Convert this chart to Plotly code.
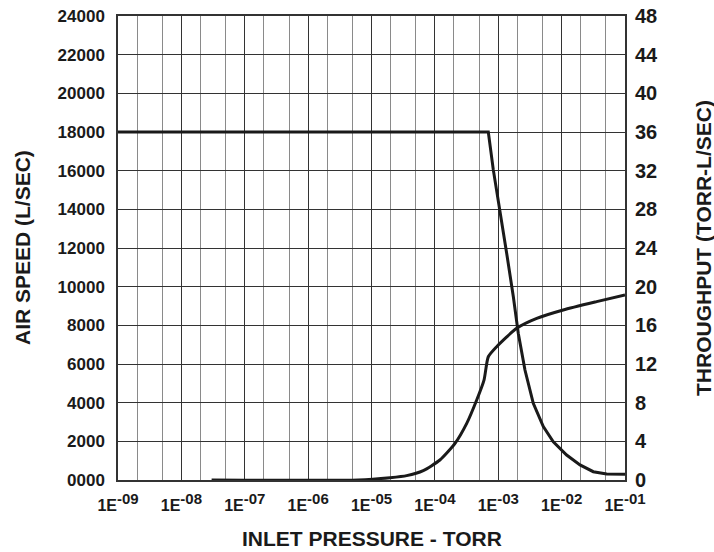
import plotly.graph_objects as go

# ---- data ----
speed_pressure = [1e-9, 6.97e-4, 8.36e-4, 1.067e-3, 1.358e-3, 1.73e-3, 2.07e-3, 2.64e-3,
                  3.57e-3, 5.14e-3, 7.39e-3, 1.2e-2, 1.95e-2, 3.16e-2, 5.14e-2, 1e-1]
air_speed = [18000, 18000, 16040, 13970, 11730, 9480, 7590, 5690,
             3970, 2760, 1980, 1290, 780, 430, 310, 300]

thru_pressure = [3e-8, 6.19e-6, 1.96e-5, 3.59e-5, 6.56e-5, 1.2e-4, 2.08e-4, 3.18e-4,
                 4.57e-4, 5.96e-4, 6.97e-4, 9.44e-4, 1.95e-3, 4.05e-3, 1.06e-2,
                 3.57e-2, 1e-1]
throughput = [0, 0, 0.24, 0.45, 0.97, 2.07, 3.79, 5.86,
              8.28, 10.34, 12.75, 13.79, 15.69, 16.72, 17.59,
              18.45, 19.14]

x_tickvals = [1e-9, 1e-8, 1e-7, 1e-6, 1e-5, 1e-4, 1e-3, 1e-2, 1e-1]
x_exponents = ["-09", "-08", "-07", "-06", "-05", "-04", "-03", "-02", "-01"]
left_ticks = list(range(0, 24001, 2000))
right_ticks = list(range(0, 49, 4))

x_ticktext = ['1E<sup><span style="font-size:15px">%s</span></sup>' % e for e in x_exponents]

FONT = "Liberation Sans, Arial, sans-serif"
INK = "#1a1a1a"

fig = go.Figure()
fig.add_trace(go.Scatter(x=speed_pressure, y=air_speed, mode="lines",
                         line=dict(color=INK, width=3),
                         yaxis="y", showlegend=False))
fig.add_trace(go.Scatter(x=thru_pressure, y=throughput, mode="lines",
                         line=dict(color=INK, width=3, shape="spline", smoothing=0.6),
                         yaxis="y2", showlegend=False))

fig.update_layout(
    width=714, height=552,
    margin=dict(l=118, r=89, t=16, b=72, autoexpand=False),
    paper_bgcolor="white", plot_bgcolor="white",
    font=dict(family=FONT, color=INK),
    xaxis=dict(type="log", range=[-9, -1], tickvals=x_tickvals, ticktext=x_ticktext,
               tickfont=dict(size=16, family=FONT, weight="bold", color=INK),
               showgrid=True, gridcolor="#333333", gridwidth=1,
               minor=dict(showgrid=True, gridcolor="#8a8a8a", gridwidth=1, ticks=""),
               showline=True, linecolor="#333333", linewidth=1.5, mirror=True,
               ticks="", zeroline=False, automargin=False, ticklabelstandoff=10),
    yaxis=dict(range=[0, 24000], tickvals=left_ticks, tickformat="04d",
               tickfont=dict(size=17, family=FONT, weight="bold", color=INK),
               showgrid=True, gridcolor="#333333", gridwidth=1,
               showline=True, linecolor="#333333", linewidth=1.5, mirror=True,
               ticks="", zeroline=False, ticklabelstandoff=8, automargin=False),
    yaxis2=dict(range=[0, 48], tickvals=right_ticks, overlaying="y", side="right",
                tickfont=dict(size=20, family=FONT, weight="bold", color=INK),
                showgrid=False, showline=False, ticks="", zeroline=False,
                automargin=False, ticklabelstandoff=9),
    annotations=[
        dict(text="INLET PRESSURE - TORR", xref="paper", yref="paper",
             x=0.5, y=-0.127, xanchor="center", yanchor="middle", showarrow=False,
             font=dict(size=21, family=FONT, weight="bold", color=INK)),
        dict(text="AIR SPEED (L/SEC)", xref="paper", yref="paper",
             x=(22 - 118) / 507, y=0.5, xanchor="center", yanchor="middle",
             textangle=-90, showarrow=False,
             font=dict(size=21, family=FONT, weight="bold", color=INK)),
        dict(text="THROUGHPUT (TORR-L/SEC)", xref="paper", yref="paper",
             x=(703 - 118) / 507, y=0.5, xanchor="center", yanchor="middle",
             textangle=-90, showarrow=False,
             font=dict(size=21, family=FONT, weight="bold", color=INK)),
    ],
)

fig.write_html("out.html", config={"displayModeBar": False},
               post_script="document.body.style.margin='0';document.body.style.overflow='hidden';")
